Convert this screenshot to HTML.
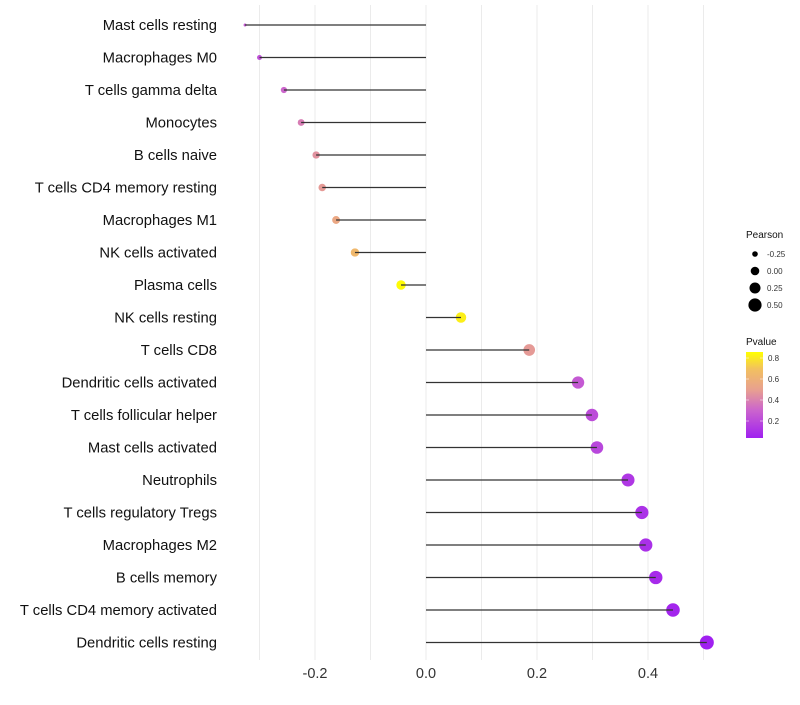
<!DOCTYPE html>
<html><head><meta charset="utf-8"><style>
body{margin:0;background:#fff;font-family:"Liberation Sans",sans-serif}
</style></head><body>
<svg id="c" width="800" height="700" xmlns="http://www.w3.org/2000/svg">
<defs><linearGradient id="pg" x1="0" y1="1" x2="0" y2="0">
<stop offset="0" stop-color="#a020f0"/><stop offset="0.33" stop-color="#cc66cc"/><stop offset="0.56" stop-color="#e8a090"/><stop offset="0.8" stop-color="#f2c060"/><stop offset="1" stop-color="#ffff00"/></linearGradient></defs>
</svg>
<script>
const categories=["Mast cells resting","Macrophages M0","T cells gamma delta","Monocytes","B cells naive","T cells CD4 memory resting","Macrophages M1","NK cells activated","Plasma cells","NK cells resting","T cells CD8","Dendritic cells activated","T cells follicular helper","Mast cells activated","Neutrophils","T cells regulatory  Tregs ","Macrophages M2","B cells memory","T cells CD4 memory activated","Dendritic cells resting"];
const pearson=[-0.326,-0.30,-0.256,-0.225,-0.198,-0.187,-0.162,-0.128,-0.045,0.063,0.186,0.274,0.299,0.308,0.364,0.389,0.396,0.414,0.445,0.506];
const pvalue=[0.25,0.22,0.3,0.38,0.45,0.48,0.55,0.65,0.85,0.82,0.48,0.25,0.2,0.18,0.12,0.1,0.09,0.07,0.05,0.03];
const xTicks=[-0.2,0,0.2,0.4];
const sizeBreaks=[-0.25,0,0.25,0.5];
const pBreaks=[0.2,0.4,0.6,0.8];
const NS="http://www.w3.org/2000/svg",svg=document.getElementById('c');
const X=v=>426+v*555, Y=i=>25+i*32.5;
const pmin=Math.min(...pearson),pmax=Math.max(...pearson);
const R=v=>1.5+5.5*Math.sqrt(Math.max(0,Math.min(1,(v-pmin)/(pmax-pmin))));
const stops=[[0.03,[160,32,240]],[0.3,[204,102,204]],[0.5,[232,160,144]],[0.7,[242,192,96]],[0.86,[255,255,0]]];
function col(p){if(p<=stops[0][0])return `rgb(${stops[0][1]})`;for(let k=1;k<stops.length;k++){if(p<=stops[k][0]){const a=stops[k-1],b=stops[k],t=(p-a[0])/(b[0]-a[0]);return `rgb(${a[1].map((c,j)=>Math.round(c+(b[1][j]-c)*t)).join(',')})`;}}return 'rgb(255,255,0)';}
function el(t,a,p){const e=document.createElementNS(NS,t);for(const k in a)e.setAttribute(k,a[k]);(p||svg).appendChild(e);return e;}
for(let v=-0.3;v<=0.51;v+=0.1){const g=el('line',{x1:X(v),x2:X(v),y1:5,y2:660,stroke:'#ebebeb','stroke-width':1});

}
xTicks.forEach(v=>{const t=el('text',{x:X(v),y:678,'text-anchor':'middle','font-size':14.5,fill:'#333'});t.textContent=v===0?'0.0':v.toFixed(1);

});
categories.forEach((c,i)=>{
const t=el('text',{x:217,y:Y(i)+5,'text-anchor':'end','font-size':14.8,fill:'#111'});t.textContent=c;


const d=el('circle',{cx:X(pearson[i]),cy:Y(i),r:R(pearson[i]),fill:col(pvalue[i])});


const l=el('line',{x1:X(0),x2:X(pearson[i]),y1:Y(i),y2:Y(i),stroke:'#333','stroke-width':1.3});


});
let t=el('text',{x:746,y:238,'font-size':10,fill:'#111'});t.textContent='Pearson';


const LR=[2.8,4.3,5.5,6.6];
sizeBreaks.forEach((v,k)=>{const y=254+k*17;const c=el('circle',{cx:755,cy:y,r:LR[k],fill:'#000'});


const s=el('text',{x:767,y:y+3,'font-size':8,fill:'#333'});s.textContent=v.toFixed(2);

});
t=el('text',{x:746,y:345,'font-size':10,fill:'#111'});t.textContent='Pvalue';


const bar=el('rect',{x:746,y:352,width:17,height:86,fill:'url(#pg)'});


pBreaks.forEach(p=>{const y=358+(0.8-p)*105;const s=el('text',{x:768,y:y+3,'font-size':8,fill:'#333'});s.textContent=p.toFixed(1);


el('line',{x1:746,x2:749,y1:y,y2:y,stroke:'#fff','stroke-width':0.5});el('line',{x1:760,x2:763,y1:y,y2:y,stroke:'#fff','stroke-width':0.5});});
</script>
</body></html>
